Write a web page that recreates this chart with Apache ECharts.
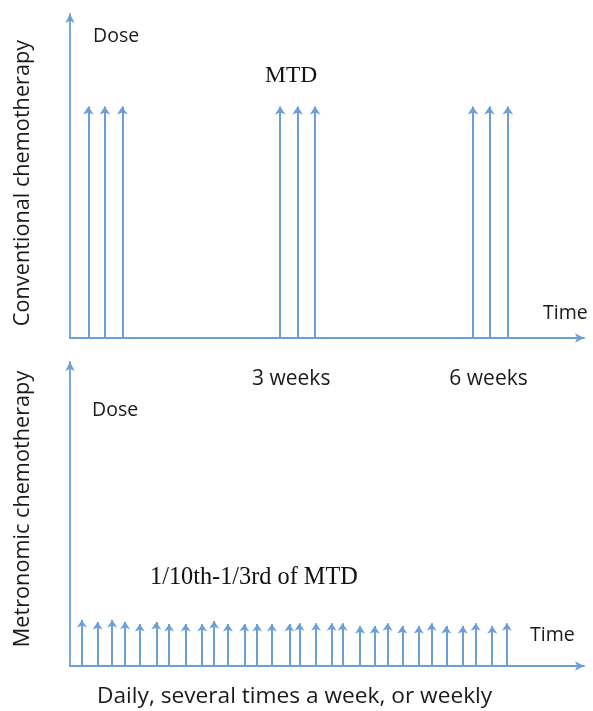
<!DOCTYPE html>
<html>
<head>
<meta charset="utf-8">
<script src="https://cdn.jsdelivr.net/npm/echarts@6/dist/echarts.min.js"></script>
<style>
html,body{margin:0;padding:0;background:#fff;}
#chart{width:593px;height:711px;}
</style>
</head>
<body>
<div id="chart"></div>
<script>
// ---- data ----
// Conventional (MTD) schedule: day of each dose and dose level (MTD = 100)
var conventionalDays = [2.0, 3.8, 5.7, 22.9, 24.8, 26.7, 43.9, 45.7, 47.7];
var conventionalDoses = [100, 100, 100, 100, 100, 100, 100, 100, 100];
// Metronomic schedule: frequent low doses
var metronomicDays = [1.3, 3.0, 4.6, 6.0, 7.6, 9.4, 10.8, 12.6, 14.4, 15.7, 17.2, 19.0, 20.4, 22.0, 23.9,
  25.0, 26.8, 28.5, 29.7, 31.6, 33.2, 34.6, 36.2, 38.0, 39.4, 41.0, 42.8, 44.2, 46.0, 47.6];
var metronomicDoses = [21.8, 20.8, 21.8, 21.0, 19.9, 20.8, 19.9, 19.9, 19.9, 21.3, 19.9, 19.9, 19.9, 19.9, 19.9,
  20.3, 20.3, 20.3, 20.3, 18.9, 18.9, 20.3, 18.9, 18.9, 20.3, 18.9, 18.9, 20.3, 18.9, 20.3];
// Tick labels
var weekTickDays = [24.1, 45.6];
var weekTickLabels = ['3 weeks', '6 weeks'];

var blue = '#6a9fd8';
var axisBlue = '#6a9fd8';

function toLines(days, doses) {
  return days.map(function (d, i) { return { coords: [[d, 0], [d, doses[i]]] }; });
}

var chart = echarts.init(document.getElementById('chart'), null, { renderer: 'canvas' });

var axisLineCommon = {
  show: true,
  symbol: ['none', 'arrow'],
  symbolSize: [7, 9],
  lineStyle: { color: axisBlue, width: 1.8 }
};

var sans = '"Open Sans"';
var serif = '"Liberation Serif"';

chart.setOption({
  animation: false,
  backgroundColor: '#fff',
  grid: [
    { left: 70, right: 9, top: 14, bottom: 373 },
    { left: 70, right: 9, top: 362, bottom: 45 }
  ],
  xAxis: [
    {
      gridIndex: 0, type: 'value', min: 0, max: 56,
      axisLine: axisLineCommon,
      axisTick: { show: false },
      splitLine: { show: false },
      axisLabel: {
        show: true,
        customValues: weekTickDays,
        formatter: function (v) {
          var i = weekTickDays.indexOf(v);
          return i >= 0 ? weekTickLabels[i] : '';
        },
        margin: 31,
        color: '#1a1a1a',
        fontFamily: 'Open Sans',
        fontSize: 21
      }
    },
    {
      gridIndex: 1, type: 'value', min: 0, max: 56,
      axisLine: axisLineCommon,
      axisTick: { show: false },
      splitLine: { show: false },
      axisLabel: { show: false }
    }
  ],
  yAxis: [
    {
      gridIndex: 0, type: 'value', min: 0, max: 140,
      axisLine: axisLineCommon,
      axisTick: { show: false }, splitLine: { show: false }, axisLabel: { show: false }
    },
    {
      gridIndex: 1, type: 'value', min: 0, max: 144,
      axisLine: axisLineCommon,
      axisTick: { show: false }, splitLine: { show: false }, axisLabel: { show: false }
    }
  ],
  series: [
    {
      type: 'lines', coordinateSystem: 'cartesian2d', xAxisIndex: 0, yAxisIndex: 0,
      symbol: ['none', 'arrow'], symbolSize: 8,
      lineStyle: { color: blue, width: 2, opacity: 1 },
      data: toLines(conventionalDays, conventionalDoses)
    },
    {
      type: 'lines', coordinateSystem: 'cartesian2d', xAxisIndex: 1, yAxisIndex: 1,
      symbol: ['none', 'arrow'], symbolSize: 7.5,
      lineStyle: { color: blue, width: 2, opacity: 1 },
      data: toLines(metronomicDays, metronomicDoses)
    }
  ],
  graphic: [
    { type: 'text', x: 93, y: 36, style: { text: 'Dose', font: '19.5px ' + sans, fill: '#1a1a1a', verticalAlign: 'middle' } },
    { type: 'text', x: 265, y: 76, style: { text: 'MTD', font: '23.5px ' + serif, fill: '#111', verticalAlign: 'middle' } },
    { type: 'text', x: 543, y: 313, style: { text: 'Time', font: '19.5px ' + sans, fill: '#1a1a1a', verticalAlign: 'middle' } },
    { type: 'text', x: 92, y: 410, style: { text: 'Dose', font: '19.5px ' + sans, fill: '#1a1a1a', verticalAlign: 'middle' } },
    { type: 'text', x: 150, y: 578, style: { text: '1/10th-1/3rd of MTD', font: '24.3px ' + serif, fill: '#111', verticalAlign: 'middle' } },
    { type: 'text', x: 530, y: 635, style: { text: 'Time', font: '19.5px ' + sans, fill: '#1a1a1a', verticalAlign: 'middle' } },
    { type: 'text', x: 97, y: 697, style: { text: 'Daily, several times a week, or weekly', font: '22.7px ' + sans, fill: '#1a1a1a', verticalAlign: 'middle' } },
    { type: 'text', x: 23, y: 183, rotation: Math.PI / 2,
      style: { text: 'Conventional chemotherapy', font: '21.7px ' + sans, fill: '#1a1a1a', align: 'center', verticalAlign: 'middle' } },
    { type: 'text', x: 23, y: 509, rotation: Math.PI / 2,
      style: { text: 'Metronomic chemotherapy', font: '21.7px ' + sans, fill: '#1a1a1a', align: 'center', verticalAlign: 'middle' } }
  ]
});
</script>
</body>
</html>
